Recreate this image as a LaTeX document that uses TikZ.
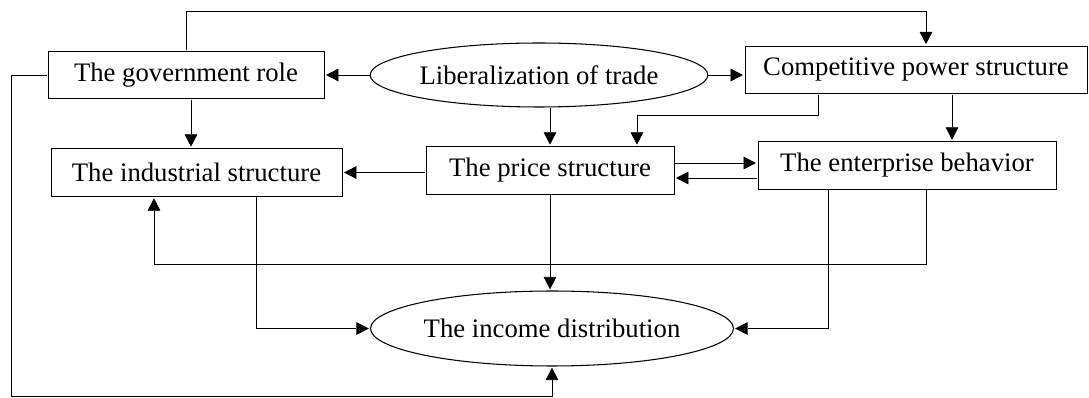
\documentclass[tikz,border=0pt]{standalone}
\usepackage{fontspec}
\setmainfont{Liberation Serif}
\usetikzlibrary{arrows.meta,shapes.geometric}

\begin{document}
\begin{tikzpicture}[x=0.02cm,y=-0.02cm]
  \tikzset{
    >={Triangle[length=8pt,width=8pt]},
    line width=1pt,
    box/.style={draw,rectangle,inner sep=0pt,minimum height=0.95cm,
      font=\fontsize{15.2}{18}\selectfont},
    oval/.style={draw,ellipse,inner sep=0pt,line width=0.6pt,
      font=\fontsize{15.2}{18}\selectfont},
  }
  \useasboundingbox (0,0) rectangle (1089,398);

  \node [box]  (gov)   at (186,75)    [minimum width=5.52cm] {The government role};
  \node [oval] (lib)   at (539,75)    [minimum width=6.44cm,minimum height=1.28cm] {Liberalization of trade};
  \node [box]  (comp)  at (916,70)    [minimum width=6.84cm] {Competitive power structure};
  \node [box]  (ind)   at (196.5,172.5) [minimum width=5.82cm] {The industrial structure};
  \node [box]  (price) at (550,170.5) [minimum width=4.96cm] {The price structure};
  \node [box]  (ent)   at (907,165.5) [minimum width=5.96cm] {The enterprise behavior};
  \node [oval] (inc)   at (552,328.5) [minimum width=6.9cm,minimum height=1.5cm] {The income distribution};
  \coordinate (low) at (11,396);

  \draw[->] (lib.west) -- (lib.west -| gov.east);
  \draw[->] (lib.east) -- (lib.east -| comp.west);
  \draw[->] (price.north |- lib.south) -- (price.north);
  \draw[->] (gov.north) -- ++(0,-39) -| ([xshift=0.2cm]comp.north);
  \draw[->] ([xshift=0.1cm]gov.south) -- ([xshift=0.1cm]gov.south |- ind.north);
  \draw[->] ([xshift=-1.96cm]comp.south) -- ++(0,21) -| ([xshift=1.74cm]price.north);
  \draw[->] ([xshift=0.72cm]comp.south) -- ([xshift=0.72cm]comp.south |- ent.north);
  \draw[->] (price.west |- ind.east) -- (ind.east);
  \draw[->] ([yshift=0.15cm]price.east) -- ([yshift=0.15cm]price.east -| ent.west);
  \draw[->] ([yshift=-0.15cm]price.east -| ent.west) -- ([yshift=-0.15cm]price.east);
  \draw[->] ([xshift=0.38cm]ent.south) -- ++(0,74) -| ([xshift=-0.85cm]ind.south);
  \draw[->] ([xshift=-1.58cm]ent.south) |- (inc.east);
  \draw[->] ([xshift=1.19cm]ind.south) |- (inc.west);
  \draw[->] (price.south) -- (price.south |- inc.north);
  \draw[->] (gov.west) -| (low) -| (inc.south);
\end{tikzpicture}
\end{document}
